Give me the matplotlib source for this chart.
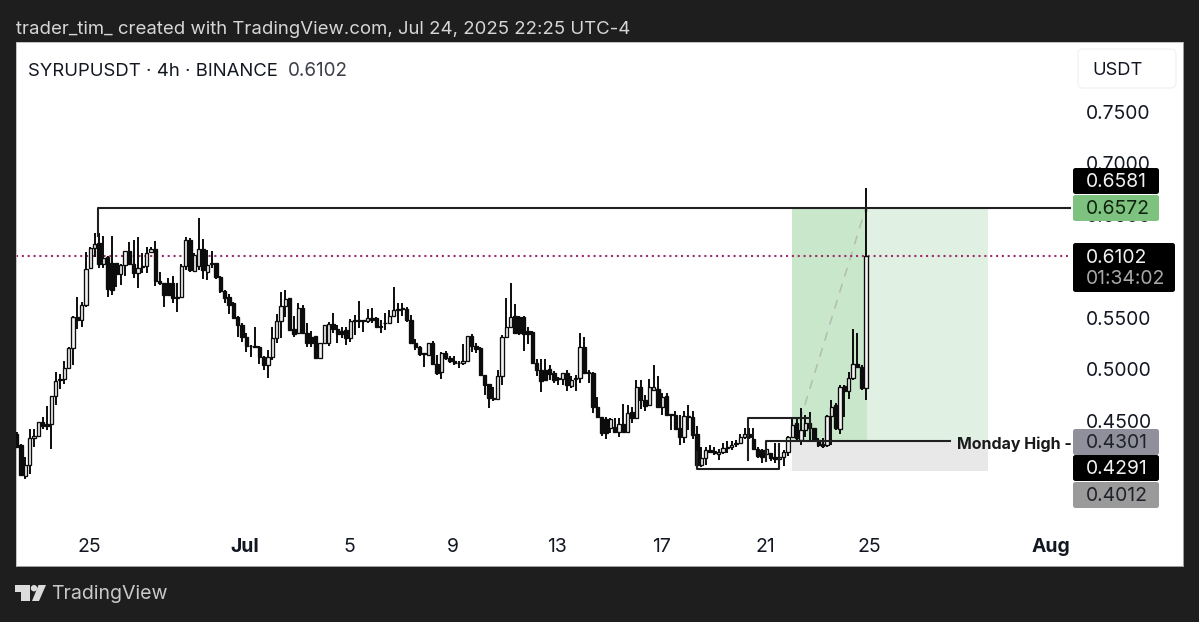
import matplotlib
matplotlib.use('Agg')
import matplotlib.pyplot as plt
import numpy as np
from matplotlib.patches import FancyBboxPatch, Polygon, Circle, Rectangle

plt.rcParams['font.family'] = ['Inter', 'DejaVu Sans']

# 4h candles
opens = [.4378,.4264,.3963,.4070,.4339,.4352,.4491,.4475,.4469,.4741,.4896,.4912,.5010,.5204,.5505,.5479,.5625,.5982,.6176,.6225,
         .6024,.6095,.6037,.6037,.5923,.6014,.6150,.6024,.5939,.5991,.6004,.6140,.6166,.5862,.5842,.5836,.5836,.5706,.5706,.6004,
         .6257,.5956,.6004,.6173,.5943,.6024,.6030,.5894,.5761,.5700,.5641,.5505,.5431,.5317,.5233,.5233,.5220,.5123,.5042,.5123,
         .5301,.5473,.5619,.5694,.5389,.5350,.5593,.5357,.5318,.5324,.5114,.5260,.5260,.5438,.5389,.5376,.5383,.5302,.5470,.5480,
         .5480,.5470,.5496,.5496,.5422,.5448,.5454,.5519,.5577,.5593,.5584,.5480,.5253,.5221,.5156,.5140,.5260,.5052,.4975,.5156,
         .5107,.5085,.5059,.5059,.5085,.5324,.5227,.5205,.4942,.4858,.4728,.4715,.4936,.5312,.5415,.5519,.5512,.5512,.5376,.5367,
         .5066,.4995,.4995,.5001,.4962,.4914,.4904,.4969,.4839,.4914,.4917,.5218,.4978,.4969,.4632,.4534,.4515,.4428,.4437,.4395,
         .4470,.4395,.4590,.4525,.4833,.4703,.4654,.4800,.4807,.4638,.4742,.4567,.4557,.4428,.4347,.4541,.4541,.4369,.4071,.4136,
         .4223,.4211,.4178,.4201,.4240,.4243,.4272,.4288,.4340,.4373,.4330,.4233,.4223,.4178,.4185,.4146,.4133,.4146,.4201,.4340,
         .4477,.4315,.4412,.4477,.4428,.4315,.4272,.4266,.4551,.4655,.4426,.4838,.4792,.4922,.5058,.5026,.4825]
highs = [.4394,.4274,.4151,.4426,.4426,.4491,.4540,.4643,.4741,.4971,.4955,.5084,.5220,.5518,.5700,.5658,.6144,.6186,.6328,.6322,
         .6296,.6101,.6296,.6037,.6024,.6150,.6241,.6257,.6283,.6127,.6186,.6186,.6250,.5949,.5842,.5884,.5907,.5836,.6024,.6289,
         .6273,.6127,.6468,.6270,.6160,.6153,.6037,.5907,.5771,.5732,.5658,.5518,.5447,.5356,.5236,.5408,.5227,.5130,.5188,.5408,
         .5538,.5755,.5772,.5694,.5519,.5642,.5626,.5454,.5376,.5324,.5260,.5431,.5464,.5551,.5431,.5415,.5415,.5486,.5529,.5668,
         .5480,.5584,.5593,.5512,.5480,.5545,.5577,.5804,.5648,.5642,.5603,.5529,.5292,.5227,.5156,.5260,.5279,.5140,.5172,.5182,
         .5130,.5130,.5085,.5247,.5324,.5344,.5253,.5214,.4942,.4864,.4832,.4994,.5334,.5691,.5836,.5636,.5519,.5519,.5415,.5373,
         .5098,.5102,.5098,.5043,.4988,.4923,.4969,.4995,.4936,.4946,.5354,.5315,.4995,.4978,.4729,.4541,.4541,.4525,.4525,.4525,
         .4664,.4654,.4638,.4897,.4897,.4752,.4904,.5043,.4936,.4768,.4768,.4567,.4599,.4557,.4599,.4654,.4599,.4450,.4243,.4249,
         .4266,.4243,.4233,.4282,.4308,.4308,.4314,.4373,.4428,.4428,.4428,.4249,.4233,.4240,.4191,.4282,.4185,.4217,.4353,.4525,
         .4525,.4622,.4558,.4590,.4434,.4331,.4331,.4558,.4703,.4671,.4847,.4847,.4977,.5398,.5350,.5042,.6759]
lows = [.4242,.3963,.3940,.3989,.4248,.4352,.4426,.4410,.4232,.4653,.4815,.4857,.5000,.5042,.5398,.5415,.5603,.5975,.6095,.5982,
        .5982,.5700,.5722,.5803,.5820,.5907,.6014,.5884,.5794,.5933,.5933,.6140,.5810,.5820,.5609,.5722,.5641,.5560,.5690,.5965,
        .5949,.5943,.5965,.5875,.5868,.5982,.5875,.5745,.5641,.5538,.5496,.5317,.5269,.5172,.5123,.5204,.5052,.4993,.4922,.5091,
        .5259,.5301,.5506,.5376,.5318,.5350,.5357,.5221,.5214,.5098,.5098,.5260,.5227,.5350,.5253,.5302,.5237,.5269,.5334,.5399,
        .5367,.5448,.5454,.5409,.5350,.5383,.5448,.5512,.5454,.5519,.5464,.5247,.5188,.5130,.5026,.5130,.5046,.4945,.4903,.5091,
        .5059,.5046,.5010,.5043,.5075,.5172,.5162,.4936,.4751,.4631,.4696,.4709,.4848,.5302,.5409,.5344,.5334,.5182,.5247,.5059,
        .4936,.4778,.4891,.4897,.4871,.4849,.4849,.4794,.4816,.4794,.4865,.4956,.4865,.4573,.4525,.4353,.4330,.4379,.4379,.4340,
        .4395,.4395,.4483,.4515,.4612,.4599,.4645,.4800,.4622,.4557,.4557,.4411,.4411,.4266,.4282,.4411,.4330,.4039,.4055,.4071,
        .4185,.4168,.4126,.4178,.4191,.4223,.4249,.4288,.4330,.4330,.4223,.4136,.4094,.4168,.4113,.4094,.4087,.4062,.4159,.4340,
        .4315,.4266,.4347,.4298,.4298,.4250,.4240,.4250,.4266,.4412,.4378,.4540,.4718,.4896,.5026,.4799,.4708]
closes = [.4248,.3973,.4070,.4339,.4355,.4491,.4449,.4449,.4741,.4890,.4912,.5010,.5204,.5505,.5479,.5625,.5975,.6176,.6218,.6024,
          .6079,.5781,.5771,.5927,.6014,.6150,.6024,.5939,.5982,.6004,.6134,.6166,.5862,.5842,.5722,.5722,.5690,.5690,.6004,.6257,
          .5965,.6111,.6173,.5965,.6014,.6030,.5894,.5761,.5690,.5625,.5496,.5431,.5317,.5227,.5227,.5220,.5123,.5042,.5123,.5301,
          .5473,.5615,.5681,.5383,.5344,.5593,.5357,.5260,.5260,.5114,.5260,.5431,.5441,.5389,.5344,.5344,.5302,.5474,.5480,.5470,
          .5470,.5496,.5480,.5415,.5409,.5454,.5519,.5577,.5587,.5584,.5480,.5253,.5214,.5150,.5146,.5253,.5052,.4968,.5156,.5107,
          .5085,.5065,.5065,.5085,.5324,.5227,.5195,.4942,.4848,.4728,.4709,.4936,.5312,.5415,.5512,.5350,.5350,.5344,.5344,.5065,
          .4995,.4891,.4897,.4956,.4897,.4904,.4962,.4849,.4897,.4904,.5218,.4965,.4962,.4632,.4541,.4379,.4385,.4515,.4395,.4470,
          .4395,.4580,.4525,.4833,.4703,.4645,.4826,.4826,.4632,.4735,.4557,.4557,.4418,.4347,.4547,.4551,.4363,.4071,.4136,.4223,
          .4201,.4185,.4201,.4240,.4249,.4266,.4288,.4347,.4373,.4340,.4233,.4159,.4152,.4233,.4136,.4133,.4146,.4201,.4340,.4460,
          .4331,.4412,.4477,.4428,.4315,.4266,.4260,.4551,.4639,.4428,.4831,.4789,.4922,.5058,.5026,.4825,.6102]

# chart levels
resistance = 0.6572
monday_high = 0.4301
last_price = 0.6102
target_low = 0.4012
box_high = 0.4529
box_low = 0.4033

price_ticks = [0.75, 0.70, 0.65, 0.60, 0.55, 0.50, 0.45]
day_ticks = [0, 6, 10, 14, 18, 22, 26, 30, 37]  # days after Jun 25
day_labels = ['25', 'Jul', '5', '9', '13', '17', '21', '25', 'Aug']

DARK = '#1e1e1e'
INK = '#131722'

fig = plt.figure(figsize=(11.99, 6.22), dpi=100, facecolor=DARK)
W, H = 1199, 622
ax = fig.add_axes([16/W, 1-566/H, (1183-16)/W, (566-42)/H], facecolor='white')
ax.set_xlim((16-89)/26, (1183-89)/26)
ax.set_ylim(0.75-(566-112)/1030, 0.75+(112-42)/1030)
for s in ax.spines.values():
    s.set_color('#b8b8b8')
    s.set_linewidth(0.6)

# position tool
ax.add_patch(Rectangle((27.04, monday_high), 2.88, resistance-monday_high, fc='#c9e7cb', ec='none', zorder=1))
ax.add_patch(Rectangle((29.92, monday_high), 4.66, resistance-monday_high, fc='#e0f0e2', ec='none', zorder=1))
ax.add_patch(Rectangle((27.04, target_low), 7.54, monday_high-target_low, fc='#e8e8e8', ec='none', zorder=1))
ax.plot([27.15, 29.88, 30.05], [0.4344, resistance, 0.6480], color='#b4bcb4', lw=1.1, ls=(0, (6, 5)), zorder=2)

# last price
ax.plot([-2.8, 37.65], [last_price, last_price], color='#9c2f6c', lw=1.5, ls=(0, (1, 1.8)), zorder=2)

# candles
n = len(closes)
x = 29.885 - (n-1-np.arange(n))/6
o, h, l, c = map(np.array, (opens, highs, lows, closes))
up = c >= o
ax.vlines(x, l, h, color='#0c0c0c', lw=1.4, zorder=3)
ax.bar(x[up], c[up]-o[up], bottom=o[up], width=0.125, fc='#f2f2f2', ec='#0c0c0c', lw=0.95, zorder=4)
ax.bar(x[~up], o[~up]-c[~up], bottom=c[~up], width=0.125, fc='#0c0c0c', ec='#0c0c0c', lw=0.95, zorder=4)

# drawn levels
ax.plot([0.35, 0.35, 37.73], [0.6300, resistance, resistance], color='#202020', lw=1.5, zorder=5)
ax.plot([26.04, 26.04, 33.12], [0.4110, monday_high, monday_high], color='#202020', lw=1.5, zorder=5)
ax.plot([25.35, 25.35, 27.73, 27.73], [0.4120, box_high, box_high, 0.4400], color='#202020', lw=1.5, zorder=5)
ax.plot([23.38, 23.38, 26.54, 26.54], [0.4200, box_low, box_low, 0.4280], color='#202020', lw=1.5, zorder=5)

ax.set_xticks(day_ticks)
ax.set_xticklabels(day_labels, fontsize=13.9, color=INK)
ax.tick_params(axis='x', length=0, pad=-20)
for t in ax.get_xticklabels():
    if t.get_text() in ('Jul', 'Aug'):
        t.set_fontweight('bold')
ax.yaxis.tick_right()
ax.set_yticks(price_ticks)
ax.set_yticklabels(['%.4f' % p for p in price_ticks], fontsize=13.9, color=INK, ha='left')
ax.tick_params(axis='y', length=0, pad=-70)

# overlay in pixels for the header, footer and price tags
ov = fig.add_axes([0, 0, 1, 1], facecolor='none')
ov.set_xlim(0, W)
ov.set_ylim(H, 0)
ov.axis('off')

ov.text(16, 29.5, 'trader_tim_ created with TradingView.com, Jul 24, 2025 22:25 UTC-4',
        color='#d6d6d6', fontsize=13.4, va='center')
ov.text(28, 71.5, 'SYRUPUSDT · 4h · BINANCE', color=INK, fontsize=13.35, va='center')
ov.text(288, 71.5, '0.6102', color='#3c3f48', fontsize=13.6, va='center')
ov.text(51, 594, 'TradingView', color='#c9c9c9', fontsize=14.1, va='center')


def tag(y0, y1, color, lines, x1=1159):
    ov.add_patch(FancyBboxPatch((1073, y0), x1-1073, y1-y0, boxstyle='round,pad=0,rounding_size=2.5',
                                fc=color, ec='none'))
    for yy, txt, tc in lines:
        ov.text(1086, yy, txt, color=tc, fontsize=13.9, va='center')


tag(168, 194, '#000000', [(182, '0.6581', '#f2f2f2')])
tag(195, 221, '#7ec27f', [(209, '0.6572', '#10230f')])
tag(243, 292, '#000000', [(258, '0.6102', '#f2f2f2'), (279.5, '01:34:02', '#a8a8a8')], x1=1175)
tag(429, 455, '#8f909c', [(443, '0.4301', '#20222a')])
tag(455, 481, '#000000', [(469, '0.4291', '#f2f2f2')])
tag(482, 508, '#9a9a9a', [(496, '0.4012', '#20222a')])

ov.text(957, 444, 'Monday High -', color='#1a1a1a', fontsize=11.5, fontweight='bold', va='center')

# USDT button
ov.add_patch(FancyBboxPatch((1078, 49), 98, 39, boxstyle='round,pad=0,rounding_size=5',
                            fc='white', ec='#f0f0f0', lw=0.8))
ov.text(1092, 70.5, 'USDT', color=INK, fontsize=13.2, va='center')

# TradingView logo
ov.add_patch(Polygon([(15, 585), (30, 585), (30, 601), (21, 601), (21, 592), (15, 592)], fc='#dcdcdc', ec='none'))
ov.add_patch(Circle((34, 588.2), 3.2, fc='#dcdcdc', ec='none'))
ov.add_patch(Polygon([(38.5, 585), (46, 585), (39, 601), (32, 601)], fc='#dcdcdc', ec='none'))

fig.savefig('out.png', dpi=100, facecolor=DARK)
